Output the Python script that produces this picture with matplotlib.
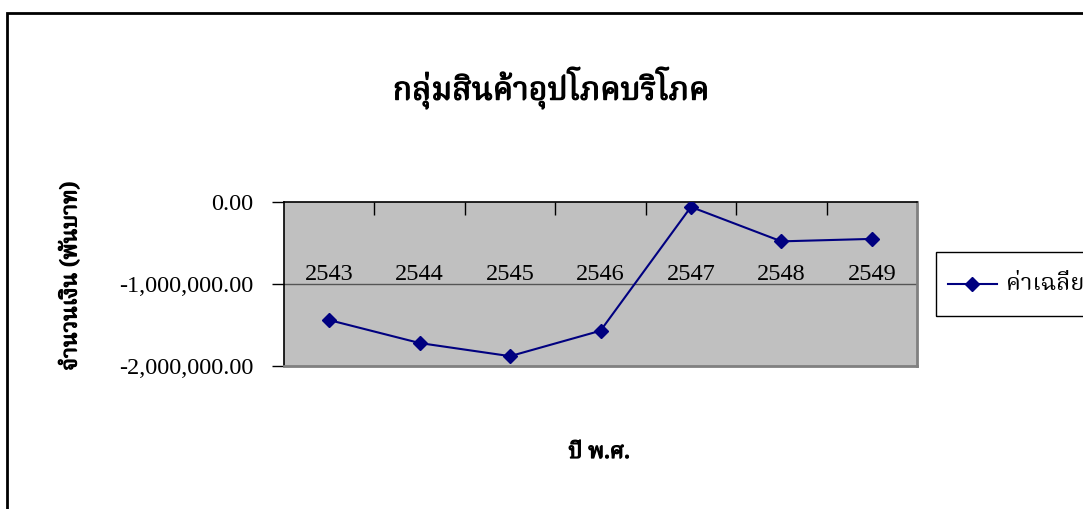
import matplotlib
matplotlib.use("Agg")
import matplotlib.pyplot as plt
import matplotlib.patheffects as pe
from matplotlib import font_manager
from matplotlib.ft2font import FT2Font
from matplotlib.patches import Rectangle
from matplotlib.lines import Line2D

# data
years = ['2543', '2544', '2545', '2546', '2547', '2548', '2549']
avg_values = [-1440000, -1720000, -1880000, -1570000, -60000, -480000, -450000]
y_ticks = [0, -1000000, -2000000]
title = 'กลุ่มสินค้าอุปโภคบริโภค'
x_title = 'ปี พ.ศ.'
y_title = 'จำนวนเงิน (พันบาท)'
series_name = 'ค่าเฉลี่ย'


def find_thai_font():
    # look for an installed font that has Thai glyphs, prefer serif ones
    found = []
    for f in font_manager.fontManager.ttflist:
        try:
            cmap = FT2Font(f.fname).get_charmap()
        except Exception:
            continue
        if 0x0E01 in cmap and 0x0E48 in cmap:
            found.append(f.name)
    found = sorted(set(found))
    for pref in ['Noto Serif Thai', 'Norasi', 'TH Sarabun New', 'Loma', 'Noto Sans Thai']:
        if pref in found:
            return pref
    return found[0] if found else 'DejaVu Sans'


thai_font = find_thai_font()
serif = 'Liberation Serif'
fake_bold = [pe.withStroke(linewidth=0.9, foreground='black')]

W, H = 1083, 509
fig = plt.figure(figsize=(W / 100, H / 100), dpi=100)

# outer chart border
fig.patches.append(Rectangle((7 / W, -0.05), 1.2, (H - 13) / H + 0.05, transform=fig.transFigure,
                             fill=False, edgecolor='black', linewidth=2))

ax = fig.add_axes([284 / W, 1 - 366 / H, (917 - 284) / W, (366 - 202) / H])
ax.set_facecolor('#C0C0C0')
x = list(range(len(years)))
ax.plot(x, avg_values, color='#000080', marker='D', markersize=7, linewidth=1.5, zorder=3)
ax.set_xlim(-0.5, len(years) - 0.5)
ax.set_ylim(-2000000, 0)

ax.set_yticks(y_ticks)
ax.set_yticklabels(['{:,.2f}'.format(v) for v in y_ticks], fontfamily=serif, fontsize=17.5)
ax.tick_params(axis='y', direction='out', length=9, width=1, pad=13)
ax.axhline(-1000000, color='#555555', linewidth=1, zorder=1)

# category axis sits at zero (top), ticks between categories pointing down
ax.set_xticks([i + 0.5 for i in range(len(years) - 1)])
ax.set_xticklabels([])
ax.xaxis.set_ticks_position('top')
ax.tick_params(axis='x', direction='in', length=9, width=1)
for i, yr in enumerate(years):
    ax.text(i, -950000, yr, ha='center', va='baseline', fontfamily=serif, fontsize=17.5)

for s in ['left', 'top']:
    ax.spines[s].set_color('black')
    ax.spines[s].set_linewidth(1.2)
for s in ['right', 'bottom']:
    ax.spines[s].set_color('#808080')
    ax.spines[s].set_linewidth(2)

fig.text(551 / W, 1 - 88 / H, title, ha='center', va='center', fontfamily=thai_font,
         fontsize=23, fontweight='bold', path_effects=fake_bold)
fig.text(599 / W, 1 - 452 / H, x_title, ha='center', va='center', fontfamily=thai_font,
         fontsize=16, fontweight='bold', path_effects=fake_bold)
fig.text(70 / W, 1 - 276 / H, y_title, ha='center', va='center', rotation=90,
         fontfamily=thai_font, fontsize=16, fontweight='bold', path_effects=fake_bold)

# legend box
fig.patches.append(Rectangle((936 / W, 1 - 316 / H), 0.2, 64 / H, transform=fig.transFigure,
                             fill=False, edgecolor='black', linewidth=1))
fig.lines.append(Line2D([948 / W, 997 / W], [1 - 284 / H] * 2, transform=fig.transFigure,
                        color='#000080', linewidth=1.5))
fig.lines.append(Line2D([972 / W], [1 - 284 / H], transform=fig.transFigure,
                        color='#000080', marker='D', markersize=7, linestyle='none'))
fig.text(1006 / W, 1 - 284 / H, series_name, ha='left', va='center', fontfamily=thai_font,
         fontsize=17)

fig.savefig('out.png', dpi=100)
